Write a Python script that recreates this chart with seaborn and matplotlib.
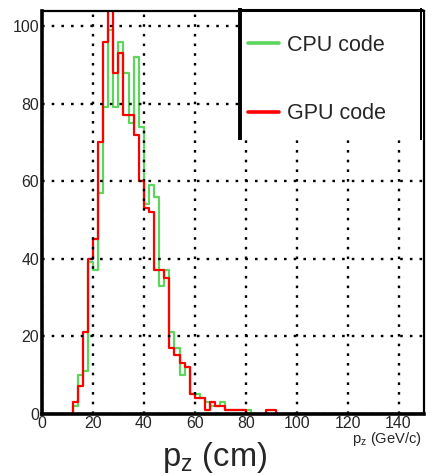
import numpy as np
import pandas as pd
import matplotlib
matplotlib.use("Agg")
import matplotlib.pyplot as plt
import seaborn as sns
from matplotlib.lines import Line2D
from matplotlib.patches import Rectangle
from matplotlib.ticker import MultipleLocator

# ---- data: counts per 2 GeV/c bin, 0..150 GeV/c ----
bin_edges = np.arange(0, 152, 2)
cpu_counts = [0, 0, 0, 0, 0, 0, 2, 10, 11, 39,
              37, 57, 79, 99, 79, 96, 88, 75, 92, 74,
              54, 59, 56, 33, 37, 21, 17, 10, 12, 5,
              5, 4, 3, 2, 2, 3, 1, 1, 1, 1,
              1, 0, 0, 0, 0, 0, 0, 0, 0, 0,
              0, 0, 0, 0, 0, 0, 0, 0, 0, 0,
              0, 0, 0, 0, 0, 0, 0, 0, 0, 0,
              0, 0, 0, 0, 0]
gpu_counts = [0, 0, 0, 0, 0, 0, 3, 7, 21, 40,
              45, 70, 96, 107, 88, 93, 77, 77, 72, 60,
              53, 52, 37, 37, 35, 17, 15, 13, 12, 5,
              4, 4, 1, 3, 2, 2, 1, 1, 1, 1,
              0, 0, 0, 0, 1, 1, 0, 0, 0, 0,
              0, 0, 0, 0, 0, 0, 0, 0, 0, 0,
              0, 0, 0, 0, 0, 0, 0, 0, 0, 0,
              0, 0, 0, 0, 0]
series_labels = ["CPU code", "GPU code"]
x_ticks = [0, 20, 40, 60, 80, 100, 120, 140]
y_ticks = [0, 20, 40, 60, 80, 100]

centers = (bin_edges[:-1] + bin_edges[1:]) / 2
df = pd.DataFrame({
    "pz": np.concatenate([centers, centers]),
    "count": np.concatenate([cpu_counts, gpu_counts]).astype(float),
    "code": [series_labels[0]] * len(centers) + [series_labels[1]] * len(centers),
})

GREEN = "#5cd65c"
RED = "#ff0000"

sns.set_style("white")
plt.rcParams["font.family"] = ["Liberation Sans", "DejaVu Sans"]
plt.rcParams["mathtext.fontset"] = "custom"
plt.rcParams["mathtext.rm"] = "Liberation Sans"
plt.rcParams["mathtext.it"] = "Liberation Sans"

W, H = 435, 476
fig = plt.figure(figsize=(W / 100, H / 100), dpi=100)
L, R, T, B = 42, 424, 11, 413.5
ax = fig.add_axes([L / W, 1 - B / H, (R - L) / W, (B - T) / H])

for lab, col in zip(series_labels, [GREEN, RED]):
    sub = df[df["code"] == lab]
    sns.histplot(data=sub, x="pz", weights="count",
                 binwidth=2, binrange=(0, 150),
                 element="step", fill=False, color=col, linewidth=1.6,
                 ax=ax)

ax.set_xlim(0, 150)
ax.set_ylim(0, 103.9)
ax.set_xticks(x_ticks)
ax.set_yticks(y_ticks)
ax.xaxis.set_minor_locator(MultipleLocator(5))
ax.yaxis.set_minor_locator(MultipleLocator(5))
ax.set_xlabel("")
ax.set_ylabel("")
ax.tick_params(which="both", direction="in", width=1.4, color="black",
               labelsize=11.4, pad=2)
ax.tick_params(which="major", length=8)
ax.tick_params(which="minor", length=4)
ax.grid(True, which="major", color="black", linestyle=(0, (1.1, 3.0)),
        linewidth=1.7)
ax.set_axisbelow(False)
for s in ["left", "bottom"]:
    ax.spines[s].set_linewidth(2.6)
for s in ["top", "right"]:
    ax.spines[s].set_linewidth(1.6)
for s in ax.spines.values():
    s.set_color("black")

# small axis title (ROOT style)
fig.text(422.5 / W, 1 - 443 / H, r"$\mathregular{p_z}$ (GeV/c)",
         ha="right", va="baseline", fontsize=10.6)
# big label below
fig.text(215 / W, 1 - 466 / H, r"$\mathregular{p_z}$ (cm)",
         ha="center", va="baseline", fontsize=23.5)

# legend box
bx0, bx1, by0, by1 = 238, 423, 8, 140
fig.add_artist(Rectangle((bx0 / W, 1 - by1 / H), (bx1 - bx0) / W,
                         (by1 - by0) / H, transform=fig.transFigure,
                         facecolor="white", edgecolor="none", zorder=3))
fig.add_artist(Line2D([240 / W, 240 / W], [1 - 8 / H, 1 - 140 / H],
                      transform=fig.transFigure, color="black", lw=2.8,
                      zorder=4, solid_capstyle="butt"))
fig.add_artist(Line2D([238 / W, 423 / W], [1 - 9.5 / H, 1 - 9.5 / H],
                      transform=fig.transFigure, color="black", lw=2.2,
                      zorder=4, solid_capstyle="butt"))
fig.add_artist(Line2D([421.5 / W, 421.5 / W], [1 - 8 / H, 1 - 140 / H],
                      transform=fig.transFigure, color="black", lw=1.4,
                      zorder=4, solid_capstyle="butt"))

handles = [Line2D([], [], color=GREEN, lw=2.6),
           Line2D([], [], color=RED, lw=2.6)]
leg = fig.legend(handles, series_labels, loc="upper left",
                 bbox_to_anchor=(248 / W, 1 - 35 / H),
                 bbox_transform=fig.transFigure, frameon=False,
                 fontsize=15.5, handlelength=1.45, handletextpad=0.37,
                 labelspacing=2.2, borderpad=0, borderaxespad=0)
leg.set_zorder(5)

fig.savefig("out.png", dpi=100)
